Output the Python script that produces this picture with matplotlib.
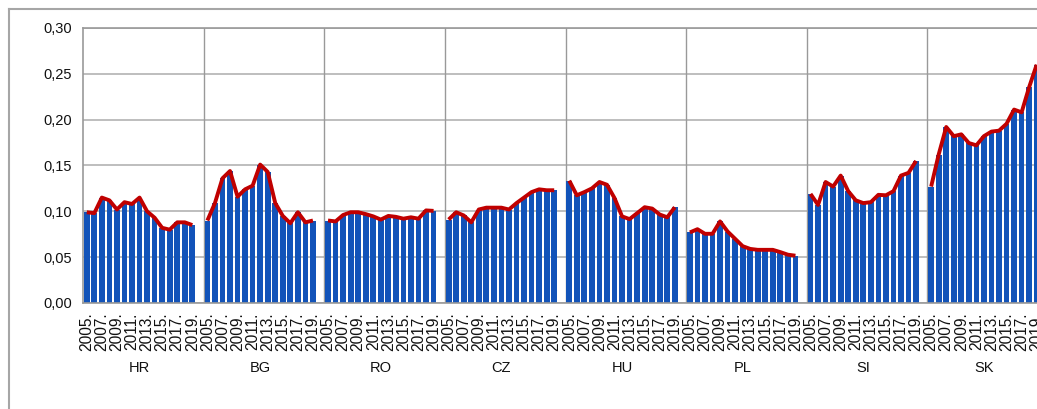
import matplotlib
matplotlib.use("Agg")
from matplotlib import pyplot as plt
from matplotlib.lines import Line2D
import numpy as np

# data
countries = ['HR', 'BG', 'RO', 'CZ', 'HU', 'PL', 'SI', 'SK']
years = list(range(2005, 2020))

hr = [0.099, 0.098, 0.115, 0.112, 0.102, 0.110, 0.108, 0.115, 0.100, 0.093, 0.082, 0.080, 0.088, 0.088, 0.085]
bg = [0.090, 0.109, 0.136, 0.144, 0.116, 0.124, 0.128, 0.151, 0.143, 0.109, 0.095, 0.087, 0.099, 0.088, 0.090]
ro = [0.090, 0.089, 0.096, 0.099, 0.099, 0.097, 0.0945, 0.091, 0.095, 0.094, 0.092, 0.0935, 0.092, 0.101, 0.1005]
cz = [0.091, 0.099, 0.0955, 0.088, 0.102, 0.104, 0.104, 0.104, 0.102, 0.109, 0.115, 0.121, 0.124, 0.123, 0.123]
hu = [0.1335, 0.1175, 0.121, 0.125, 0.132, 0.129, 0.1145, 0.0945, 0.0915, 0.098, 0.1045, 0.103, 0.0965, 0.0935, 0.1045]
pl = [0.077, 0.0805, 0.0755, 0.0755, 0.089, 0.078, 0.070, 0.062, 0.059, 0.058, 0.058, 0.058, 0.0555, 0.0527, 0.0516]
si = [0.119, 0.107, 0.132, 0.127, 0.139, 0.122, 0.112, 0.109, 0.110, 0.118, 0.1175, 0.122, 0.139, 0.142, 0.155]
sk = [0.127, 0.162, 0.192, 0.182, 0.184, 0.1745, 0.172, 0.182, 0.187, 0.188, 0.1955, 0.211, 0.208, 0.2355, 0.260]

series = [hr, bg, ro, cz, hu, pl, si, sk]

plt.rcParams['font.family'] = ['Liberation Sans', 'DejaVu Sans']

W, H = 1037, 409
fig = plt.figure(figsize=(W / 100, H / 100), dpi=100)
# plot area runs past the right edge, like the cropped original
ax = fig.add_axes([83 / W, 1 - 303 / H, 965 / W, 275 / H])

slots = 16  # 15 years plus one empty slot per country
bar_col = '#1253b9'
line_col = '#c00000'
grid_col = '#b3b3b3'
sep_col = '#999999'

tick_pos, tick_lab = [], []
for g, vals in enumerate(series):
    x = g * slots + np.arange(len(vals))
    ax.bar(x, vals, width=0.76, color=bar_col, zorder=2)
    ax.plot(x, vals, color=line_col, lw=2.8, zorder=3, solid_capstyle='butt')
    for k, yr in enumerate(years):
        if k % 2 == 0:
            tick_pos.append(g * slots + k)
            tick_lab.append(f'{yr}.')
    ax.text(g * slots + 7, -0.238, countries[g], transform=ax.get_xaxis_transform(),
            ha='center', va='center', fontsize=10.5, color='#111111')
    if g > 0:
        ax.axvline(g * slots - 0.5, color=sep_col, lw=1, zorder=1)

ax.set_xlim(-0.5, len(series) * slots - 0.5)
ax.set_ylim(0, 0.30)
ax.set_yticks(np.arange(0, 0.31, 0.05))
ax.set_yticklabels([f'{v:.2f}'.replace('.', ',') for v in np.arange(0, 0.31, 0.05)], fontsize=10.5)
ax.set_xticks(tick_pos)
ax.set_xticklabels(tick_lab, rotation=90, fontsize=11.2, va='top')
ax.tick_params(axis='both', length=0, colors='#111111')
ax.tick_params(axis='x', pad=7)
ax.tick_params(axis='y', pad=8)
ax.yaxis.grid(True, color=grid_col, lw=1.2, zorder=0)
ax.set_axisbelow(True)
for side in ['left', 'top', 'bottom', 'right']:
    ax.spines[side].set_color(sep_col)
    ax.spines[side].set_linewidth(1.2)

# outer chart frame
fig.add_artist(Line2D([8.5 / W, 8.5 / W], [0, 1 - 9 / H], color='#a6a6a6', lw=1.5))
fig.add_artist(Line2D([8.5 / W, 1], [1 - 9 / H, 1 - 9 / H], color='#a6a6a6', lw=1.5))

fig.savefig('out.png', dpi=100)
